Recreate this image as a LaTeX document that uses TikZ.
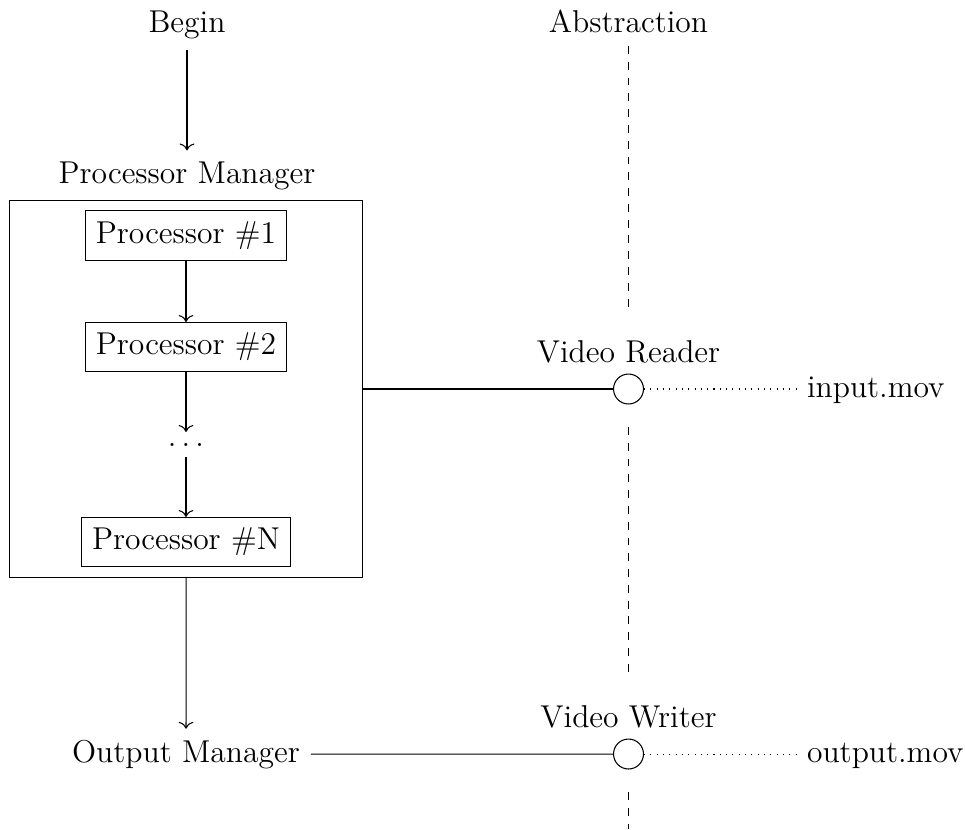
\documentclass[tikz,border=0pt,12pt]{standalone}
\usetikzlibrary{arrows.meta}
\tikzset{
  proc/.style={draw, inner sep=.3333em},
  port/.style={circle, draw, fill=white, minimum size=4mm, inner sep=0pt},
  flow/.style={-{Computer Modern Rightarrow[width=5.6pt, length=2.6pt]}},
  guide/.style={dashed},
  link/.style={dotted}
}
\begin{document}
\begin{tikzpicture}[x=0.38pt, y=-0.38pt]
  \useasboundingbox (0,0) rectangle (965,829);

  % left column: pipeline
  \node[anchor=base] (begin) at (187,32) {Begin};
  \node[anchor=base] (pmlabel) at (187,183) {Processor Manager};
  \node[draw, minimum width=134.3pt, minimum height=143.3pt, inner sep=0pt] (pmbox) at (186.25,389) {};
  \node[proc] (p1) at (186,235.5) {Processor $\#$1};
  \node[proc] (p2) at (186,347) {Processor $\#$2};
  \node[anchor=base] (dots) at (186,446) {$\ldots$};
  \node[proc] (pN) at (186,542) {Processor $\#$N};
  \node[anchor=base] (om) at (186,762) {Output Manager};

  % right column: abstraction layer
  \node[anchor=base] (abstr) at (628.5,32) {Abstraction};
  \node[anchor=base] (vrl) at (628.5,362) {Video Reader};
  \node[port] (vr) at (628.5,389) {};
  \node[anchor=base] (vwl) at (628.5,727) {Video Writer};
  \node[port] (vw) at (628.5,754) {};
  \node[anchor=base west] (inmov) at (796,397) {input.mov};
  \node[anchor=base west] (outmov) at (796,762) {output.mov};

  % flow arrows
  \draw[flow] (begin) -- (pmlabel);
  \draw[flow] (p1) -- (p2);
  \draw[flow] (p2) -- (dots);
  \draw[flow] (dots) -- (pN);
  \draw[flow] (pmbox) -- (om);

  % interfaces
  \draw (pmbox.east) -- (vr);
  \draw (om) -- (vw);
  \draw[link] (vr.east) -- (vr.east -| inmov.west);
  \draw[link] (vw.east) -- (vw.east -| outmov.west);

  % abstraction boundary
  \coordinate (gA) at (628.5,308);
  \coordinate (gB1) at (628.5,427);
  \coordinate (gB2) at (628.5,673);
  \coordinate (gC) at (628.5,792);
  \coordinate (gEnd) at (628.5,829);
  \draw[guide] ([yshift=-1pt]abstr.south) -- (gA);
  \draw[guide] (gB1) -- (gB2);
  \draw[guide] (gC) -- (gEnd);
\end{tikzpicture}
\end{document}
